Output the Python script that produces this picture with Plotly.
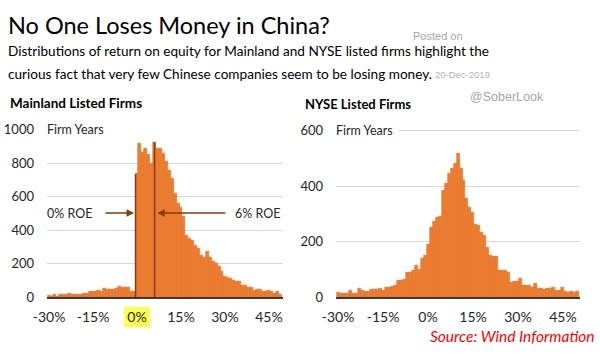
import plotly.graph_objects as go

# ---------------- data ----------------
mainland_pct = list(range(-30, 50))
mainland_counts = [10, 4, 14, 6, 12, 16, 15, 20, 15, 16,
                   15, 16, 18, 22, 30, 30, 35, 40, 32, 50,
                   45, 45, 45, 48, 60, 55, 55, 58, 35, 33,
                   735, 918, 862, 889, 850, 800, 925, 888, 885, 858,
                   808, 758, 705, 620, 560, 537, 480, 370, 352, 340,
                   310, 292, 250, 233, 270, 233, 211, 202, 181, 155,
                   125, 115, 110, 100, 90, 90, 70, 70, 56, 55,
                   38, 45, 45, 30, 32, 40, 30, 20, 30, 15]

nyse_pct = list(range(-30, 51))
nyse_counts = [15, 12, 13, 14, 22, 11, 11, 30, 24, 20,
               20, 27, 27, 27, 29, 24, 34, 35, 38, 40,
               58, 60, 62, 88, 90, 94, 112, 100, 140, 150,
               190, 250, 272, 286, 291, 385, 411, 447, 463, 481,
               517, 463, 421, 355, 323, 305, 263, 258, 234, 222,
               180, 150, 145, 145, 96, 95, 94, 90, 54, 56,
               56, 65, 42, 42, 40, 34, 47, 30, 30, 28,
               30, 30, 36, 25, 24, 36, 20, 18, 20, 18, 20]

x_tickvals = [-30, -15, 0, 15, 30, 45]
x_ticktext = ["-30%", "-15%", "0%", "15%", "30%", "45%"]
left_yticks = [0, 200, 400, 600, 800, 1000]
right_yticks = [0, 200, 400, 600]

roe_lines = [0, 6]           # ROE marker positions (%)
roe_labels = ["0% ROE", "6% ROE"]

W, H = 600, 355
ORANGE = "#ED7D31"
BROWN = "#843C0C"
FONT = "Lato"

def px(x):
    return x / W

def py(y):
    return 1 - y / H

fig = go.Figure()
fig.add_trace(go.Bar(x=mainland_pct, y=mainland_counts, xaxis="x", yaxis="y",
                     marker=dict(color=ORANGE, line=dict(color="#E2701F", width=0.6)),
                     width=1.0, showlegend=False))
fig.add_trace(go.Bar(x=nyse_pct, y=nyse_counts, xaxis="x2", yaxis="y2",
                     marker=dict(color=ORANGE, line=dict(color="#E2701F", width=0.6)),
                     width=1.0, showlegend=False))

ydom = [py(297), py(129.5)]
xfont = dict(family=FONT, size=14, color="#262626")
yfont = dict(family=FONT, size=13, color="#262626")
fig.update_layout(
    template="none",
    width=W, height=H,
    margin=dict(l=0, r=0, t=0, b=0, autoexpand=False),
    paper_bgcolor="white", plot_bgcolor="white",
    bargap=0,
    xaxis=dict(domain=[px(47), px(283)], range=[-30.7, 49.8], anchor="y",
               tickvals=x_tickvals, ticktext=x_ticktext, tickfont=xfont,
               showline=True, linecolor="#3a3a3a", linewidth=2,
               showgrid=False, zeroline=False, ticks="", automargin=False,
               ticklabelstandoff=6),
    yaxis=dict(domain=ydom, range=[0, 1000], anchor="x",
               tickvals=left_yticks, tickfont=yfont, showline=False,
               showgrid=True, gridcolor="#d9d9d9", gridwidth=1,
               zeroline=False, ticks="", automargin=False,
               ticklabelstandoff=12),
    xaxis2=dict(domain=[px(336), px(580)], range=[-30.7, 50.7], anchor="y2",
                tickvals=x_tickvals, ticktext=x_ticktext, tickfont=xfont,
                showline=True, linecolor="#3a3a3a", linewidth=2,
                showgrid=False, zeroline=False, ticks="", automargin=False,
                ticklabelstandoff=6),
    yaxis2=dict(domain=ydom, range=[0, 604], anchor="x2",
                tickvals=right_yticks, tickfont=yfont, showline=False,
                showgrid=True, gridcolor="#d9d9d9", gridwidth=1,
                zeroline=False, ticks="", automargin=False,
                ticklabelstandoff=12),
)

shapes = []
# hide left part of top gridlines (behind "Firm Years")
shapes.append(dict(type="rect", xref="paper", yref="paper",
                   x0=px(46), x1=px(122), y0=py(131.5), y1=py(127.5),
                   fillcolor="white", line=dict(width=0), layer="above"))
shapes.append(dict(type="rect", xref="paper", yref="paper",
                   x0=px(335), x1=px(399), y0=py(133), y1=py(129),
                   fillcolor="white", line=dict(width=0), layer="above"))
# yellow highlight behind 0% tick label
shapes.append(dict(type="rect", xref="paper", yref="paper",
                   x0=px(124), x1=px(150), y0=py(327), y1=py(307),
                   fillcolor="#FFFF4D", line=dict(width=0), layer="below"))
# ROE vertical lines
shapes.append(dict(type="line", xref="x", yref="y",
                   x0=roe_lines[0] - 0.5, x1=roe_lines[0] - 0.5,
                   y0=0, y1=mainland_counts[mainland_pct.index(roe_lines[0])],
                   line=dict(color=BROWN, width=1.5), layer="above"))
shapes.append(dict(type="line", xref="x", yref="y",
                   x0=roe_lines[1], x1=roe_lines[1],
                   y0=0, y1=mainland_counts[mainland_pct.index(roe_lines[1])],
                   line=dict(color=BROWN, width=1.5), layer="above"))
fig.update_layout(shapes=shapes)

ann = []
def text(x, y, s, size, color="#000000", anchor="left", bold=False, italic=False, family=FONT):
    if bold:
        s = "<b>" + s + "</b>"
    if italic:
        s = "<i>" + s + "</i>"
    ann.append(dict(x=px(x), y=py(y), xref="paper", yref="paper", text=s,
                    showarrow=False, xanchor=anchor, yanchor="middle",
                    font=dict(family=family, size=size, color=color)))

text(6, 25, "No One Loses Money in China?", 23.5, "#000000")
text(6, 51, "Distributions of return on equity for Mainland and NYSE listed firms highlight the", 13.6)
text(6, 74, "curious fact that very few Chinese companies seem to be losing money.", 13.6)
text(411, 36, "Posted on", 11, "#a6a6a6", family="Liberation Sans")
text(433, 75, "20-Dec-2019", 9.5, "#b3b3b3", family="Liberation Sans")
text(468, 97, "@SoberLook", 12.5, "#a6a6a6", family="Liberation Sans")
text(8, 103, "Mainland Listed Firms", 13.5, "#000000", bold=True)
text(303, 104, "NYSE Listed Firms", 13, "#000000", bold=True)
text(45, 129, "Firm Years", 12.5, "#262626")
text(334, 131, "Firm Years", 12.5, "#262626")
text(69, 213, roe_labels[0], 12.5, "#262626", anchor="center")
text(257, 213, roe_labels[1], 12.5, "#262626", anchor="center")
text(597, 336, "Source: Wind Information", 15.5, "#ff0000", anchor="right", italic=True)

# arrows
ann.append(dict(x=-1.0, y=501, ax=-11.3, ay=501, xref="x", yref="y", axref="x", ayref="y",
                text="", showarrow=True, arrowhead=2, arrowsize=1, arrowwidth=1.5,
                arrowcolor=BROWN))
ann.append(dict(x=6.9, y=501, ax=30.7, ay=501, xref="x", yref="y", axref="x", ayref="y",
                text="", showarrow=True, arrowhead=2, arrowsize=1, arrowwidth=1.5,
                arrowcolor=BROWN))
fig.update_layout(annotations=ann)

fig.write_html("out.html", config={"displayModeBar": False},
               post_script="document.body.style.margin='0';")
